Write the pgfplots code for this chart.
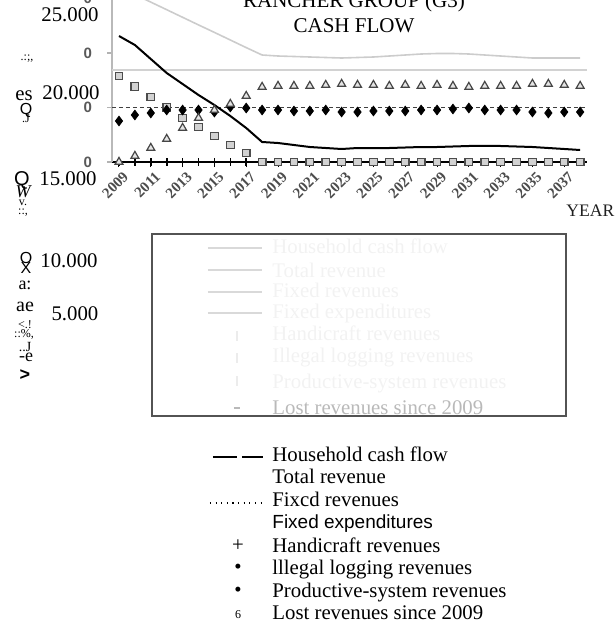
\documentclass[border=0pt]{standalone}
\usepackage{pgfplots}
\pgfplotsset{compat=1.18}
\usepackage{fontspec}
\setmainfont{Liberation Serif}
\setsansfont{Liberation Sans}
\begin{document}
\begin{tikzpicture}
\useasboundingbox (0,0) rectangle (307.5pt,317pt);
\begin{axis}[
  at={(56pt,236pt)}, anchor=south west, scale only axis,
  width=237.5pt, height=86pt,
  xmin=2008.56, xmax=2038.43, ymin=0, ymax=15780,
  axis x line*=bottom, axis y line*=left,
  x axis line style={black, line width=0.9pt},
  y axis line style={gray!55, line width=0.8pt},
  xtick={2009,2011,...,2037}, minor xtick={2010,2012,...,2038},
  ytick={0,5000,10000,15000}, yticklabels={0,0,0,0},
  tick align=outside, major tick length=2.5pt, minor tick length=1.5pt,
  x tick style={black, line width=0.5pt},
  y tick style={gray!60, line width=0.6pt},
  clip=false,
  /pgf/number format/assume math mode=true,
  /pgf/number format/set thousands separator={},
  scaled y ticks=false,
  xticklabel style={rotate=45, anchor=east, font=\fontsize{7.5}{8}\selectfont\bfseries, text=gray!60!black, inner sep=1pt, yshift=-5pt, xshift=1pt},
  yticklabel style={font=\sffamily\bfseries\fontsize{7.5}{8}\selectfont, text=gray!70!black, xshift=-4pt},
]
% Total revenue
\addplot[gray!40, line width=0.8pt] coordinates {
(2009,16055)(2010,15357)(2011,14669)(2012,13972)(2013,13275)(2014,12577)(2015,11890)(2016,11192)(2017,10495)(2018,9816)
(2019,9724)(2020,9679)(2021,9633)(2022,9587)(2023,9541)(2024,9587)(2025,9633)(2026,9724)(2027,9816)(2028,9908)
(2029,9954)(2030,9954)(2031,9908)(2032,9816)(2033,9724)(2034,9633)(2035,9541)(2036,9541)(2037,9541)(2038,9541)};
% Fixed expenditures
\addplot[gray!35, line width=0.8pt] coordinates {(2008.56,8440)(2038.43,8440)};
% Fixed revenues
\addplot[gray!50!black, line width=0.6pt, dash pattern=on 2pt off 1.5pt] coordinates {(2008.56,5000)(2038.43,5000)};
% Household cash flow
\addplot[black, line width=1pt] coordinates {
(2009,11560)(2010,10734)(2011,9449)(2012,8165)(2013,7156)(2014,6147)(2015,5229)(2016,4220)(2017,3119)(2018,1835)
(2019,1743)(2020,1560)(2021,1376)(2022,1284)(2023,1193)(2024,1284)(2025,1284)(2026,1284)(2027,1330)(2028,1376)
(2029,1376)(2030,1422)(2031,1468)(2032,1468)(2033,1468)(2034,1422)(2035,1376)(2036,1284)(2037,1193)(2038,1101)};
% Handicraft revenues
\addplot[only marks, mark=+, mark size=2pt, mark options={black, line width=0.8pt}] coordinates {
(2009,0)(2010,0)(2011,0)(2012,0)(2013,0)(2014,0)(2015,0)(2016,0)(2017,0)(2018,0)
(2019,0)(2020,0)(2021,0)(2022,0)(2023,0)(2024,0)(2025,0)(2026,0)(2027,0)(2028,0)
(2029,0)(2030,0)(2031,0)(2032,0)(2033,0)(2034,0)(2035,0)(2036,0)(2037,0)(2038,0)};
% Illegal logging revenues
\addplot[only marks, mark=square*, mark size=1.9pt, mark options={draw=gray!60!black, fill=gray!35, line width=0.6pt}] coordinates {
(2009,7890)(2010,6926)(2011,5963)(2012,5000)(2013,4037)(2014,3211)(2015,2385)(2016,1560)(2017,826)(2018,0)
(2019,0)(2020,0)(2021,0)(2022,0)(2023,0)(2024,0)(2025,0)(2026,0)(2027,0)(2028,0)
(2029,0)(2030,0)(2031,0)(2032,0)(2033,0)(2034,0)(2035,0)(2036,0)(2037,0)(2038,0)};
% Productive-system revenues
\addplot[only marks, mark=diamond*, mark size=2.4pt, mark options={black}] coordinates {
(2009,3761)(2010,4312)(2011,4495)(2012,4770)(2013,4770)(2014,4770)(2015,4587)(2016,5046)(2017,4954)(2018,4770)
(2019,4770)(2020,4679)(2021,4679)(2022,4770)(2023,4587)(2024,4587)(2025,4679)(2026,4679)(2027,4679)(2028,4770)
(2029,4770)(2030,4862)(2031,4954)(2032,4770)(2033,4770)(2034,4770)(2035,4587)(2036,4495)(2037,4587)(2038,4587)};
% Lost revenues since 2009
\addplot[only marks, mark=triangle*, mark size=2.3pt, mark options={draw=gray!55!black, fill=gray!20, line width=0.6pt}] coordinates {
(2009,0)(2010,550)(2011,1284)(2012,2110)(2013,3119)(2014,4037)(2015,4770)(2016,5321)(2017,6055)(2018,6881)
(2019,6972)(2020,6972)(2021,6972)(2022,7064)(2023,7156)(2024,7064)(2025,7064)(2026,6972)(2027,7064)(2028,6972)
(2029,7064)(2030,6972)(2031,6881)(2032,6972)(2033,6972)(2034,6972)(2035,7156)(2036,7156)(2037,7064)(2038,6972)};
\end{axis}
\begin{scope}[x=0.5pt, y=-0.5pt, yshift=317pt]
\tikzset{t/.style={anchor=base west, inner sep=0pt, font=\fontsize{10.4}{12}\selectfont}}
% title
\node[anchor=base, inner sep=0pt, font=\fontsize{10.5}{12}\selectfont] at (354,8) {RANCHER GROUP (G3)};
\node[anchor=base, inner sep=0pt, font=\fontsize{10.5}{12}\selectfont] at (354,32) {CASH FLOW};
\node[anchor=base west, inner sep=0pt, font=\fontsize{8.8}{10}\selectfont, text=gray!25!black] at (566,217) {YEAR};
% left overlay texts
\node[anchor=base, inner sep=0pt, font=\fontsize{10.4}{12}\selectfont] at (70,22) {25.000};
\node[anchor=base, inner sep=0pt, font=\fontsize{10.4}{12}\selectfont] at (71,99) {20.000};
\node[anchor=base, inner sep=0pt, font=\fontsize{10.4}{12}\selectfont] at (68,185) {15.000};
\node[anchor=base, inner sep=0pt, font=\fontsize{10.4}{12}\selectfont] at (69,268) {10.000};
\node[anchor=base, inner sep=0pt, font=\fontsize{10.4}{12}\selectfont] at (75,320) {5.000};
\node[anchor=base, inner sep=0pt, font=\fontsize{6}{7}\selectfont] at (27,60) {.:;,};
\node[anchor=base, inner sep=0pt, font=\fontsize{10.4}{12}\selectfont] at (24,100) {es};
\node[anchor=base, inner sep=0pt, font=\sffamily\fontsize{8}{9}\selectfont] at (26,114) {Q};
\node[anchor=base, inner sep=0pt, font=\fontsize{6}{7}\selectfont] at (26,123) {.J};
\node[anchor=base, inner sep=0pt, font=\sffamily\fontsize{10}{11}\selectfont] at (22,185) {Q};
\node[anchor=base, inner sep=0pt, font=\itshape\fontsize{9}{10}\selectfont] at (23,197) {W};
\node[anchor=base, inner sep=0pt, font=\fontsize{6}{7}\selectfont] at (23,205) {v.};
\node[anchor=base, inner sep=0pt, font=\fontsize{6}{7}\selectfont] at (23,214) {::,};
\node[anchor=base, inner sep=0pt, font=\sffamily\fontsize{8}{9}\selectfont] at (26,263) {O};
\node[anchor=base, inner sep=0pt, font=\sffamily\fontsize{8}{9}\selectfont] at (26,273) {X};
\node[anchor=base, inner sep=0pt, font=\fontsize{9}{10}\selectfont] at (25,290) {a:};
\node[anchor=base, inner sep=0pt, font=\fontsize{10}{11}\selectfont] at (25,312) {ae};
\node[anchor=base, inner sep=0pt, font=\fontsize{6}{7}\selectfont] at (25,328) {<.!};
\node[anchor=base, inner sep=0pt, font=\fontsize{6}{7}\selectfont] at (24,337) {::\%,};
\node[anchor=base, inner sep=0pt, font=\fontsize{7}{8}\selectfont] at (25,351) {..J};
\node[anchor=base, inner sep=0pt, font=\fontsize{9}{10}\selectfont] at (26,362) {-e};
\node[anchor=base, inner sep=0pt, font=\sffamily\bfseries\fontsize{9}{10}\selectfont] at (25,380) {>};
% faded legend box
\draw[gray!65!black, line width=1pt] (152,234) rectangle (566,416);
\foreach \yy in {248,270,292,313} {\draw[gray!30, line width=0.8pt] (208,\yy) -- (262,\yy);}
\foreach \yy in {336,358,381} {\draw[gray!15, line width=0.8pt] (237,\yy-5) -- (237,\yy+5);}
\node[t, text=gray!10] at (272,254) {Household cash flow};
\node[t, text=gray!10] at (272,277) {Total revenue};
\node[t, text=gray!10] at (272,298) {Fixed revenues};
\node[t, text=gray!10] at (272,319) {Fixed expenditures};
\node[t, text=gray!10] at (272,341) {Handicraft revenues};
\node[t, text=gray!10] at (272,363) {Illegal logging revenues};
\node[t, text=gray!10] at (272,388) {Productive-system revenues};
\node[t, text=gray!55] at (272,414) {Lost revenues since 2009};
\draw[gray!55, line width=0.8pt] (234,408) -- (240,408);
% lower legend
\draw[black, line width=1pt] (213,457) -- (237,457);
\draw[black, line width=1pt] (242,457) -- (263,457);
\node[t] at (272,462) {Household cash flow};
\node[t] at (272,484) {Total revenue};
\draw[black, line width=0.6pt, dash pattern=on 0.6pt off 2.2pt] (210,503) -- (250,503);
\draw[black, line width=0.6pt, dash pattern=on 0.6pt off 2.2pt] (255,503) -- (266,503);
\node[t] at (272,507) {Fixcd revenues};
\node[t, font=\sffamily\fontsize{9.5}{11}\selectfont] at (272,529) {Fixed expenditures};
\node[inner sep=0pt, font=\fontsize{10.4}{12}\selectfont] at (238,546) {+};
\node[t] at (272,552) {Handicraft revenues};
\node[inner sep=0pt, font=\fontsize{10.4}{12}\selectfont] at (238,569) {•};
\node[t] at (272,574) {lllegal logging revenues};
\node[inner sep=0pt, font=\fontsize{10.4}{12}\selectfont] at (238,592) {•};
\node[t] at (272,597) {Productive-system revenues};
\node[inner sep=0pt, font=\fontsize{6}{7}\selectfont] at (238,615) {6};
\node[t] at (272,619) {Lost revenues since 2009};
\end{scope}
\end{tikzpicture}
\end{document}
